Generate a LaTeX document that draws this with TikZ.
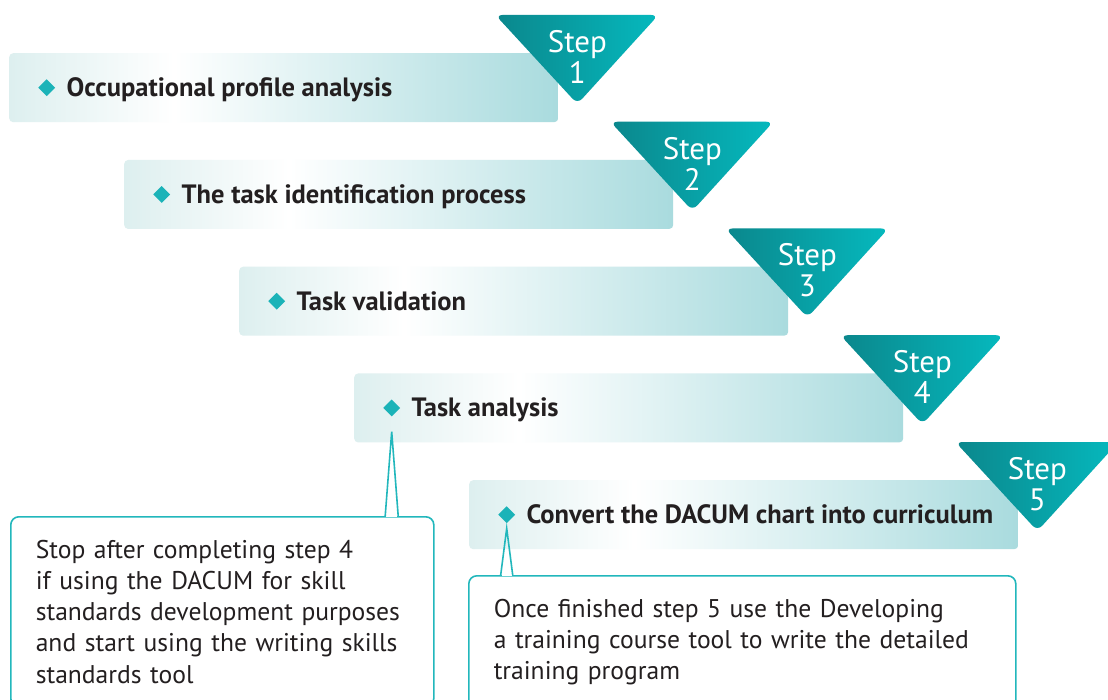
\documentclass[tikz,border=0pt]{standalone}
\usepackage{fontspec}
\setmainfont{PT Sans}
\usetikzlibrary{positioning,shapes.geometric,calc}
\definecolor{stepdark}{HTML}{0B878C}
\definecolor{stepbright}{HTML}{05B9BE}
\definecolor{bulletteal}{HTML}{1BB3B8}
\definecolor{lineteal}{HTML}{22B7BC}
\definecolor{barleft}{HTML}{DDEFEF}
\definecolor{barright}{HTML}{A9DBDE}
\definecolor{ink}{HTML}{231F20}
\pgfdeclarehorizontalshading{barshade}{100bp}{color(0bp)=(barleft); color(25bp)=(barleft); color(40bp)=(white); color(75bp)=(barright); color(100bp)=(barright)}
\tikzset{
  bar/.style={shade,shading=barshade,rounded corners=4pt,minimum width=549pt,minimum height=69pt,inner sep=0pt,anchor=north west},
  tri/.style={left color=stepdark,right color=stepbright,rounded corners=7pt},
  stepno/.style={text=white,align=center,inner sep=0pt,font=\fontsize{31}{31}\selectfont},
  bullet/.style={diamond,fill=bulletteal,minimum width=17pt,minimum height=17pt,inner sep=0pt},
  steptext/.style={text=ink,inner sep=0pt,anchor=base west,font=\fontsize{26.5}{30}\selectfont\bfseries},
  callout/.style={draw=lineteal,line width=1.6pt,rounded corners=8pt,align=left,anchor=north west,
    inner xsep=25pt,inner ysep=23pt,text=ink,font=\fontsize{25.6}{31.3}\selectfont},
  pointer/.style={draw=lineteal,line width=1.6pt,line join=miter}
}
\begin{document}
\begin{tikzpicture}[x=1pt,y=-1pt]
\useasboundingbox[fill=white] (0,0) rectangle (1108,700);
% the five steps
\foreach \i/\txt in {1/Occupational profile analysis,2/The task identification process,3/Task validation,4/Task analysis,5/Convert the DACUM chart into curriculum}{
  \node[bar] (bar\i) at ({9+115*(\i-1)},{53+106.75*(\i-1)}) {};
  \node[bullet,right=29pt of bar\i.west] (dot\i) {};
  \node[steptext] (lab\i) at ($(dot\i.east)+(11,9)$) {\txt};
  \shade[tri] ($(bar\i.north east)+(-63,-38)$) coordinate (tri\i) -- ++(163,0) -- ++(-81,89) -- cycle;
  \node[stepno] (step\i) at ($(tri\i)+(82,42)$) {Step\\\i};
}
% notes
\node[callout,text width=373pt] (note1) at (10,516) {Stop after completing step 4\\
if using the DACUM for skill\\
standards development purposes\\
and start using the writing skills\\
standards tool};
\node[callout,text width=497pt] (note2) at (468,575) {Once finished step 5 use the Developing\\
a training course tool to write the detailed\\
training program};
% pointers
\coordinate (tip1) at ($(dot4.south)+(0,15)$);
\coordinate (tip1l) at ($(tip1 |- note1.north)+(-6.5,0)$);
\coordinate (tip1r) at ($(tip1 |- note1.north)+(6.5,0)$);
\coordinate (tip2) at ($(dot5.south)+(0,5)$);
\coordinate (tip2l) at ($(tip2 |- note2.north)+(-6,0)$);
\coordinate (tip2r) at ($(tip2 |- note2.north)+(6,0)$);
\fill[white] ($(tip1l)+(0.9,-1.2)$) rectangle ($(tip1r)+(-0.9,1.2)$);
\fill[white] ($(tip2l)+(0.9,-1.2)$) rectangle ($(tip2r)+(-0.9,1.2)$);
\draw[pointer] (tip1l) -- (tip1) -- (tip1r);
\draw[pointer] (tip2l) -- (tip2) -- (tip2r);
\end{tikzpicture}
\end{document}
